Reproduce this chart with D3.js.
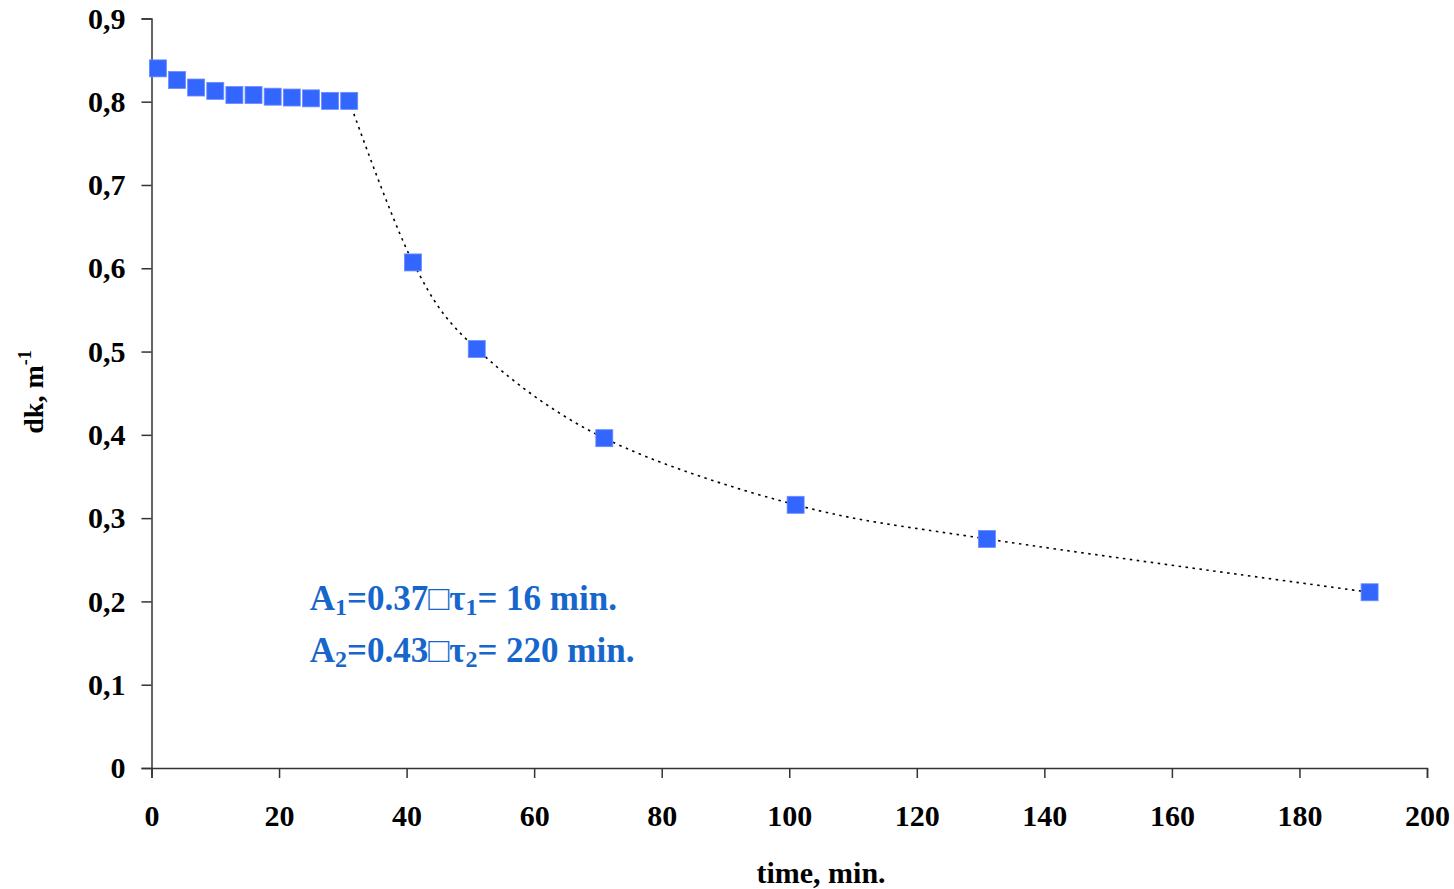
<!DOCTYPE html>
<html>
<head>
<meta charset="utf-8">
<script src="https://cdn.jsdelivr.net/npm/d3@7"></script>
<style>
  html, body { margin: 0; padding: 0; background: #fff; }
  svg { display: block; }
  .tick text { font-family: "Liberation Serif", "Times New Roman", serif; font-weight: bold; }
</style>
</head>
<body>
<svg id="chart" width="1454" height="889"></svg>
<script>
// Measured dk (m^-1) versus time (min)
const timeMin = [1, 4, 7, 10, 13, 16, 19, 22, 25, 28, 31, 41, 51, 71, 101, 131, 191];
const dkValues = [0.840, 0.826, 0.817, 0.813, 0.808, 0.808, 0.806, 0.805, 0.804, 0.801, 0.801,
                  0.607, 0.503, 0.396, 0.316, 0.275, 0.211];
// Index of the first point of the decay part (dotted fit runs from here)
const decayStart = 10;

const xTicks = [0, 20, 40, 60, 80, 100, 120, 140, 160, 180, 200];
const yTicks = [0, 0.1, 0.2, 0.3, 0.4, 0.5, 0.6, 0.7, 0.8, 0.9];

const fitLines = [
  { a: "A", aSub: "1", mid: "=0.37\u25A1\u03C4", tSub: "1", tail: "= 16 min." },
  { a: "A", aSub: "2", mid: "=0.43\u25A1\u03C4", tSub: "2", tail: "= 220 min." }
];

const svg = d3.select("#chart");
const plotLeft = 151.5, plotRight = 1427, plotTop = 18.4, plotBottom = 768;

const x = d3.scaleLinear().domain([0, 200]).range([plotLeft, plotRight]);
const y = d3.scaleLinear().domain([0, 0.9]).range([plotBottom, plotTop]);

const fmtY = v => v === 0 ? "0" : d3.format(".1f")(v).replace(".", ",");

// Y axis
const yAxis = svg.append("g")
  .attr("transform", `translate(${plotLeft},0)`)
  .call(d3.axisLeft(y).tickValues(yTicks).tickFormat(fmtY).tickSize(10).tickPadding(16));
// X axis
const xAxis = svg.append("g")
  .attr("transform", `translate(0,${plotBottom})`)
  .call(d3.axisBottom(x).tickValues(xTicks).tickFormat(d3.format("d")).tickSize(10).tickPadding(27));

[yAxis, xAxis].forEach(g => {
  g.select(".domain").attr("stroke", "#333").attr("stroke-width", 1.5);
  g.selectAll(".tick line").attr("stroke", "#333").attr("stroke-width", 1.5);
  g.selectAll(".tick text").attr("font-size", 30).attr("fill", "#000");
});
xAxis.selectAll(".tick text").attr("dy", "0.71em");

// Dotted smoothed line through the decay points
const decay = timeMin.slice(decayStart).map((t, i) => [t, dkValues[decayStart + i]]);
svg.append("path")
  .datum(decay)
  .attr("fill", "none")
  .attr("stroke", "#000")
  .attr("stroke-width", 1.6)
  .attr("stroke-dasharray", "2.5,4.5")
  .attr("d", d3.line().x(d => x(d[0])).y(d => y(d[1])).curve(d3.curveCardinal.tension(0)));

// Square markers
const size = 17;
svg.append("g").selectAll("rect")
  .data(timeMin.map((t, i) => [t, dkValues[i]]))
  .join("rect")
  .attr("x", d => x(d[0]) - size / 2)
  .attr("y", d => y(d[1]) - size / 2)
  .attr("width", size)
  .attr("height", size)
  .attr("fill", "#3366ff")
  .attr("stroke", "#6a8cff")
  .attr("stroke-width", 0.8);

// Fit parameters
const ann = svg.append("g")
  .attr("font-family", "'Liberation Serif', 'Times New Roman', serif")
  .attr("font-weight", "bold")
  .attr("font-size", 35)
  .attr("fill", "#1666cc");
fitLines.forEach((ln, i) => {
  const t = ann.append("text")
    .attr("x", x(24.8))
    .attr("y", y(0.19) + i * 52);
  t.append("tspan").text(ln.a);
  t.append("tspan").attr("font-size", 24).attr("dy", 5).text(ln.aSub);
  t.append("tspan").attr("dy", -5).text(ln.mid);
  t.append("tspan").attr("font-size", 24).attr("dy", 5).text(ln.tSub);
  t.append("tspan").attr("dy", -5).text(ln.tail);
});

// Axis titles
svg.append("text")
  .attr("x", 821)
  .attr("y", 883)
  .attr("text-anchor", "middle")
  .attr("font-family", "'Liberation Serif', 'Times New Roman', serif")
  .attr("font-weight", "bold")
  .attr("font-size", 30)
  .text("time, min.");

const yt = svg.append("text")
  .attr("transform", `translate(43,392) rotate(-90)`)
  .attr("text-anchor", "middle")
  .attr("font-family", "'Liberation Serif', 'Times New Roman', serif")
  .attr("font-weight", "bold")
  .attr("font-size", 28);
yt.append("tspan").text("dk, m");
yt.append("tspan").attr("font-size", 18).attr("dy", -12).text("-1");
</script>
</body>
</html>
